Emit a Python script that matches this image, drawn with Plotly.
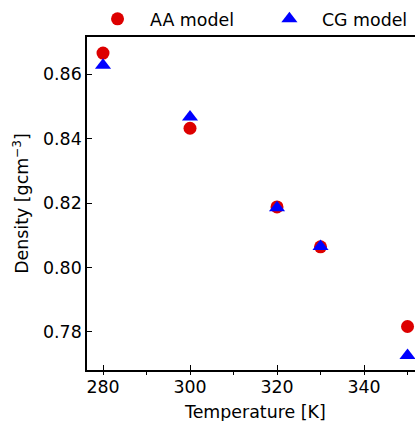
import plotly.graph_objects as go

temperature = [280, 300, 320, 330, 350]
density_aa = [0.8665, 0.8432, 0.8188, 0.8064, 0.7817]
density_cg = [0.8627, 0.8467, 0.8185, 0.8065, 0.7727]
x_ticks = [280, 300, 320, 340]
y_ticks = [0.78, 0.80, 0.82, 0.84, 0.86]
y_tick_labels = ["0.78", "0.80", "0.82", "0.84", "0.86"]

FONT = "DejaVu Sans"
FS = 17.4

fig = go.Figure()
fig.add_trace(go.Scatter(
    x=temperature, y=density_aa, mode="markers", name="AA model",
    marker=dict(symbol="circle", size=13, color="rgb(221,0,0)"),
    cliponaxis=False, legend="legend",
))
fig.add_trace(go.Scatter(
    x=temperature, y=density_cg, mode="markers", name="CG model",
    marker=dict(symbol="triangle-up", size=14, color="rgb(0,0,255)"),
    cliponaxis=False, legend="legend2",
))

leg_common = dict(orientation="h", y=1.0, yanchor="bottom", xanchor="left",
                  font=dict(family=FONT, size=FS, color="black"),
                  itemwidth=55, bgcolor="rgba(0,0,0,0)", borderwidth=0)

fig.update_layout(
    width=415, height=421,
    margin=dict(l=87, r=0, t=37, b=51),
    paper_bgcolor="white", plot_bgcolor="white",
    font=dict(family=FONT, size=FS, color="black"),
    showlegend=True,
    legend=dict(x=-0.006, **leg_common),
    legend2=dict(x=0.518, **leg_common),
    xaxis=dict(
        range=[276.32, 351.72], tickvals=x_ticks,
        showline=True, linecolor="black", linewidth=1.5, mirror=True,
        ticks="inside", ticklen=5, tickwidth=1.3, tickcolor="black",
        showgrid=False, zeroline=False,
        minor=dict(dtick=10, tick0=0, ticks="outside", ticklen=3, tickwidth=1, tickcolor="black", showgrid=False),
    ),
    yaxis=dict(
        range=[0.7682, 0.8715], tickvals=y_ticks, ticktext=y_tick_labels,
        showline=True, linecolor="black", linewidth=1.5, mirror=False,
        ticks="inside", ticklen=5, tickwidth=1.3, tickcolor="black",
        showgrid=False, zeroline=False,
        title=dict(text="Density [gcm<sup>−3</sup>]", standoff=10, font=dict(family=FONT, size=FS)),
    ),
    annotations=[dict(
        text="Temperature [K]", xref="x", yref="paper", x=315.0, y=-0.125,
        xanchor="center", yanchor="middle", showarrow=False,
        font=dict(family=FONT, size=FS, color="black"),
    )],
)

fig.write_html("out.html")
